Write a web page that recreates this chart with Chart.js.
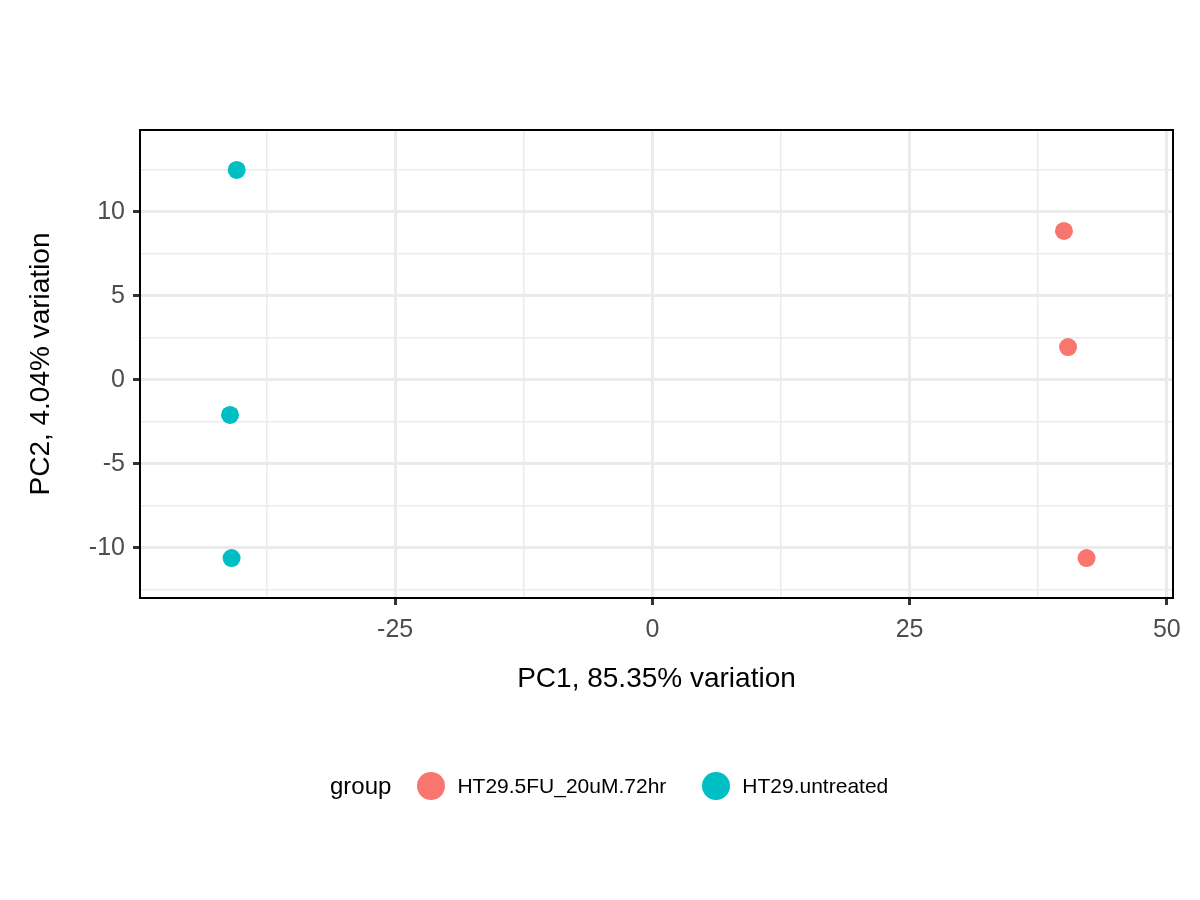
<!DOCTYPE html>
<html>
<head>
<meta charset="utf-8">
<script src="https://cdn.jsdelivr.net/npm/chart.js@4"></script>
<style>
  body { margin: 0; background: #fff; font-family: "Liberation Sans", Arial, sans-serif; }
  #wrap { position: relative; width: 1200px; height: 900px; }
  #legend { position: absolute; top: 772px; left: 330px; display: flex; align-items: center; font-size: 24px; color: #000; }
  .dot { width: 28px; height: 28px; border-radius: 50%; display: inline-block; margin: 0 12px 0 26px; }
  .lab { font-size: 21px; }
</style>
</head>
<body>
<div id="wrap">
  <canvas id="pca" width="1200" height="900"></canvas>
  <div id="legend">
    <span>group</span>
    <span class="dot" style="background:#F8766D"></span><span class="lab">HT29.5FU_20uM.72hr</span>
    <span class="dot" style="background:#00BFC4;margin-left:36px"></span><span class="lab">HT29.untreated</span>
  </div>
</div>
<script>
// PCA scores
const treatedPC1 = [40.0, 40.4, 42.2];
const treatedPC2 = [8.87, 1.96, -10.6];
const untreatedPC1 = [-40.4, -41.05, -40.9];
const untreatedPC2 = [12.5, -2.08, -10.6];
const xTicks = [-25, 0, 25, 50];
const yTicks = [-10, -5, 0, 5, 10];

const toPoints = (xs, ys) => xs.map((x, i) => ({ x: x, y: ys[i] }));

// major and minor grid positions inside the range
const gridTicks = (step) => (scale) => {
    const out = [];
    for (let v = Math.ceil(scale.min / step) * step; v <= scale.max + 1e-9; v += step) {
        out.push({ value: Math.round(v * 1000) / 1000 });
    }
    scale.ticks = out;
};

const boxPlugin = {
    id: 'box',
    afterDraw(chart) {
        const a = chart.chartArea;
        const ctx = chart.ctx;
        ctx.save();
        ctx.strokeStyle = '#000';
        ctx.lineWidth = 2;
        ctx.strokeRect(a.left, a.top, a.right - a.left, a.bottom - a.top);
        ctx.restore();
    }
};

new Chart(document.getElementById('pca'), {
    type: 'scatter',
    data: {
        datasets: [
            { label: 'HT29.5FU_20uM.72hr', data: toPoints(treatedPC1, treatedPC2), backgroundColor: '#F8766D', borderWidth: 0, pointRadius: 9 },
            { label: 'HT29.untreated', data: toPoints(untreatedPC1, untreatedPC2), backgroundColor: '#00BFC4', borderWidth: 0, pointRadius: 9 }
        ]
    },
    options: {
        responsive: false,
        animation: false,
        layout: { padding: { left: 20, top: 130, right: 27, bottom: 200 } },
        plugins: { legend: { display: false }, tooltip: { enabled: false } },
        scales: {
            x: {
                type: 'linear', min: -49.8, max: 50.6,
                ticks: {
                    autoSkip: false, maxRotation: 0, padding: 10, color: '#4d4d4d', font: { size: 25, family: 'Liberation Sans' },
                    callback: v => xTicks.includes(v) ? v : ''
                },
                afterBuildTicks: gridTicks(12.5),
                afterFit: s => { s.height = 102; },
                grid: {
                    color: '#ebebeb', tickLength: 7, tickColor: c => xTicks.includes(c.tick && c.tick.value) ? '#333' : 'rgba(0,0,0,0)',
                    lineWidth: c => xTicks.includes(c.tick && c.tick.value) ? 3 : 1.5
                },
                border: { display: false },
                title: { display: true, text: 'PC1, 85.35% variation', color: '#000', font: { size: 28, family: 'Liberation Sans' }, padding: { top: 0 } }
            },
            y: {
                type: 'linear', min: -12.98, max: 14.88,
                ticks: {
                    autoSkip: false, padding: 8, color: '#4d4d4d', font: { size: 25, family: 'Liberation Sans' },
                    callback: v => yTicks.includes(v) ? v : ''
                },
                afterBuildTicks: gridTicks(2.5),
                afterFit: s => { s.width = 120; },
                grid: {
                    color: '#ebebeb', tickLength: 7, tickColor: c => yTicks.includes(c.tick && c.tick.value) ? '#333' : 'rgba(0,0,0,0)',
                    lineWidth: c => yTicks.includes(c.tick && c.tick.value) ? 3 : 1.5
                },
                border: { display: false },
                title: { display: true, text: 'PC2, 4.04% variation', color: '#000', font: { size: 28, family: 'Liberation Sans' }, padding: { bottom: 0 } }
            }
        }
    },
    plugins: [boxPlugin]
});
</script>
</body>
</html>
